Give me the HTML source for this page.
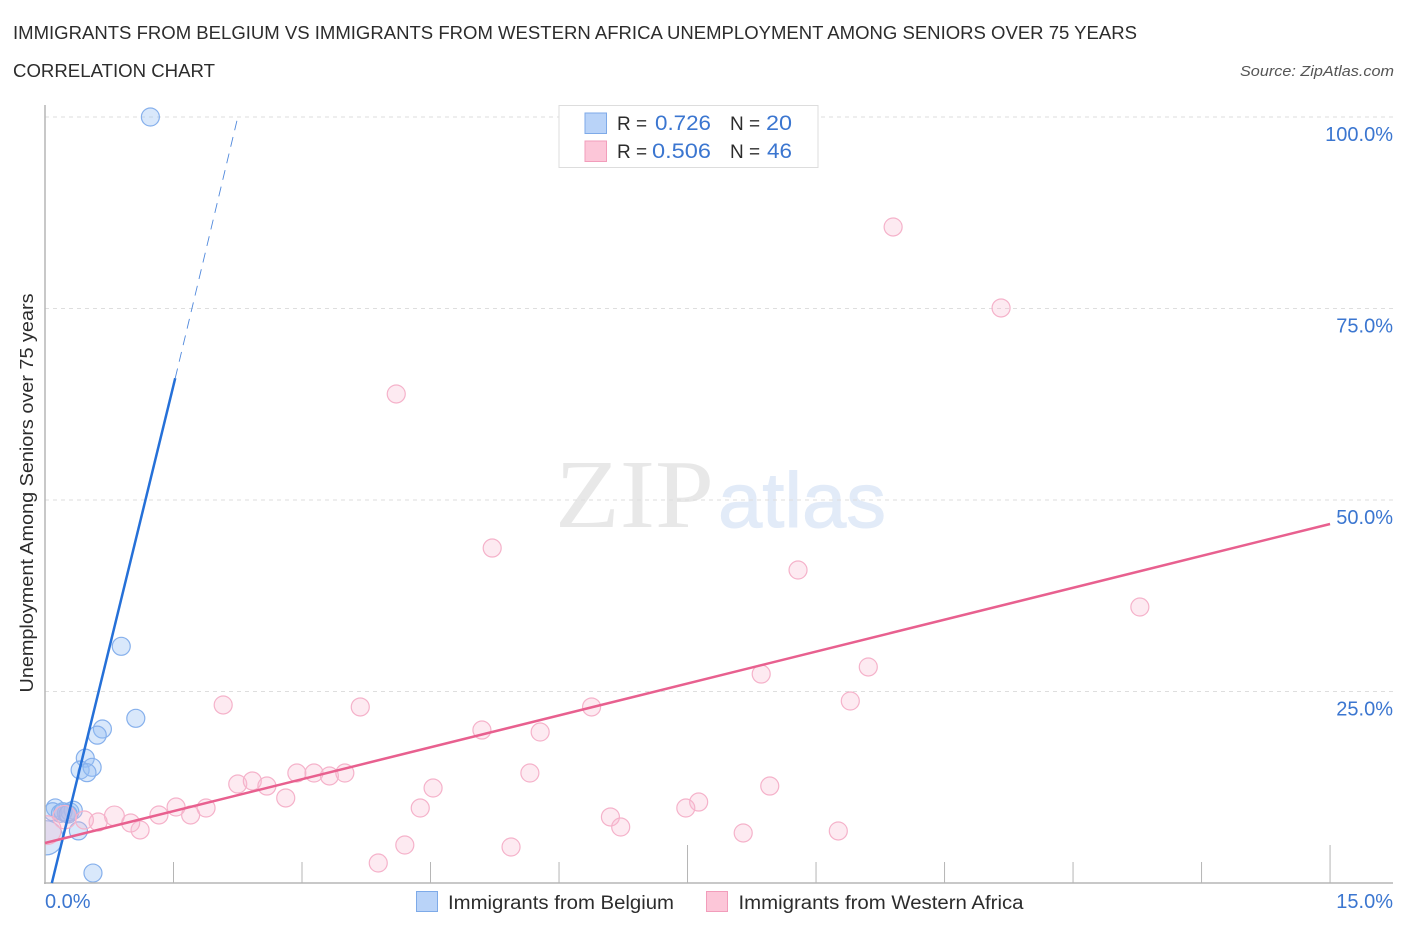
<!DOCTYPE html>
<html lang="en">
<head>
<meta charset="utf-8">
<title>Immigrants from Belgium vs Immigrants from Western Africa Correlation Chart</title>
<style>
html,body{margin:0;padding:0;background:#fff;width:1406px;height:930px;overflow:hidden}
svg{display:block}
text{font-family:"Liberation Sans",sans-serif}
</style>
</head>
<body>
<svg id="chart" xmlns="http://www.w3.org/2000/svg" width="1406" height="930" viewBox="0 0 1406 930">
  <defs>
    <clipPath id="plot-clip"><rect x="45" y="100" width="1350" height="783"/></clipPath>
  </defs>
  <text x="13" y="39" font-size="18" fill="#2c2c2c" textLength="1124" lengthAdjust="spacingAndGlyphs">IMMIGRANTS FROM BELGIUM VS IMMIGRANTS FROM WESTERN AFRICA UNEMPLOYMENT AMONG SENIORS OVER 75 YEARS</text>
  <text x="13" y="77" font-size="18" fill="#2c2c2c" textLength="202" lengthAdjust="spacingAndGlyphs">CORRELATION CHART</text>
  <text x="1394" y="76" font-size="15" font-style="italic" fill="#555" text-anchor="end" textLength="154" lengthAdjust="spacingAndGlyphs">Source: ZipAtlas.com</text>

  <g>
    <text x="555" y="527" font-size="97" fill="#e8e8e8" style="font-family:'Liberation Serif',serif" textLength="159" lengthAdjust="spacingAndGlyphs">ZIP</text>
    <text x="718" y="527" font-size="78" fill="#e2ebf8" stroke="#e2ebf8" stroke-width="1" textLength="168" lengthAdjust="spacingAndGlyphs">atlas</text>
  </g>

  <g id="grid"></g>
  <g id="blue-points" clip-path="url(#plot-clip)"></g>
  <g id="pink-points" clip-path="url(#plot-clip)"></g>
  <g id="axes"></g>
  <g id="trends"></g>
  <g id="labels"></g>

  <text transform="translate(33,493) rotate(-90)" font-size="18" fill="#2c2c2c" text-anchor="middle" textLength="399" lengthAdjust="spacingAndGlyphs">Unemployment Among Seniors over 75 years</text>

  <g>
    <rect x="559" y="105.500" width="259" height="62" fill="#fff" stroke="#ddd" stroke-width="1"/>
    <rect x="585" y="113" width="21.500" height="20.500" fill="#b9d3f8" stroke="#7eaae8" stroke-width="1"/>
    <rect x="585" y="141" width="21.500" height="20.500" fill="#fcc6d8" stroke="#f29dbb" stroke-width="1"/>
    <text x="617" y="130" font-size="19" fill="#2c2c2c">R =</text>
    <text x="711" y="130" font-size="21" fill="#3b76d0" text-anchor="end" textLength="56" lengthAdjust="spacingAndGlyphs">0.726</text>
    <text x="730" y="130" font-size="19" fill="#2c2c2c">N =</text>
    <text x="792" y="130" font-size="21" fill="#3b76d0" text-anchor="end" textLength="26" lengthAdjust="spacingAndGlyphs">20</text>
    <text x="617" y="158" font-size="19" fill="#2c2c2c">R =</text>
    <text x="711" y="158" font-size="21" fill="#3b76d0" text-anchor="end" textLength="59" lengthAdjust="spacingAndGlyphs">0.506</text>
    <text x="730" y="158" font-size="19" fill="#2c2c2c">N =</text>
    <text x="792" y="158" font-size="21" fill="#3b76d0" text-anchor="end" textLength="25" lengthAdjust="spacingAndGlyphs">46</text>
  </g>

  <g>
    <rect x="416.500" y="891.500" width="21" height="20" fill="#b9d3f8" stroke="#7eaae8" stroke-width="1"/>
    <text x="448" y="909" font-size="19" fill="#2c2c2c" textLength="226" lengthAdjust="spacingAndGlyphs">Immigrants from Belgium</text>
    <rect x="706.500" y="891.500" width="21" height="20" fill="#fcc6d8" stroke="#f29dbb" stroke-width="1"/>
    <text x="738.500" y="909" font-size="19" fill="#2c2c2c" textLength="285" lengthAdjust="spacingAndGlyphs">Immigrants from Western Africa</text>
  </g>
</svg>
<script>
var belgiumX = [1.23,0.89,1.06,0.67,0.61,0.47,0.41,0.55,0.49,0.12,0.09,0.18,0.25,0.29,0.33,0.39,0.56,0.01,0.21,0.27];
var belgiumY = [100,30.9,21.5,20.1,19.3,16.3,14.75,15.1,14.4,9.8,9.3,9.1,9.1,9.3,9.5,6.8,1.3,5.9,9.3,9.0];
var belgiumSize = [1,1,1,1,1,1,1,1,1,1,1,1,1,1,1,1,1,1.9,1,1];
var africaX = [9.90,11.16,4.10,5.22,8.79,12.78,9.61,8.36,9.40,6.38,2.08,3.68,5.10,5.78,2.94,3.14,3.32,3.50,5.66,2.25,2.42,2.59,2.81,4.53,8.46,4.38,7.63,7.48,6.60,6.72,8.15,9.26,4.20,5.44,3.89,1.88,1.53,1.70,1.33,1.11,1.00,0.81,0.62,0.46,0.23,0.02];
var africaY = [85.64,75.07,63.84,43.73,40.86,36.03,28.2,27.28,23.76,22.98,23.24,22.98,19.97,19.71,14.36,14.36,13.97,14.36,14.36,12.92,13.32,12.66,11.1,12.4,12.66,9.79,10.57,9.79,8.62,7.31,6.53,6.79,4.96,4.70,2.61,9.79,9.92,8.88,8.88,6.92,7.83,8.75,7.96,8.22,8.6,6.9];
var africaSize = [1,1,1,1,1,1,1,1,1,1,1,1,1,1,1,1,1,1,1,1,1,1,1,1,1,1,1,1,1,1,1,1,1,1,1,1,1,1,1,1,1,1.1,1,1,1.3,1.6];
var xTicks = [1.5,3,4.5,6,7.5,9,10.5,12,13.5,15];
var xMajorTicks = [7.5,15];
var yTicks = [25,50,75,100];
var yTickLabels = ['25.0%','50.0%','75.0%','100.0%'];
var xEndLabels = ['0.0%','15.0%'];
var belgiumTrendX = [0.08,1.52];
var belgiumTrendY = [0,65.9];
var belgiumDashX = [1.52,2.24];
var belgiumDashY = [65.9,99.5];
var africaTrendX = [0,15];
var africaTrendY = [5.22,46.87];

var NS = 'http://www.w3.org/2000/svg';
function sx(v){ return 45 + v * 85.67; }
function sy(v){ return 883 - v * 7.66; }
function mk(tag, parentId, attrs, txt){
  var el = document.createElementNS(NS, tag);
  for (var k in attrs) el.setAttribute(k, attrs[k]);
  if (txt !== undefined) el.textContent = txt;
  document.getElementById(parentId).appendChild(el);
  return el;
}

yTicks.forEach(function(v, i){
  var line = mk('line', 'grid', {x1:45, x2:1393, y1:sy(v), y2:sy(v), stroke:'#dedede', 'stroke-width':1, 'stroke-dasharray':'4 4'});
  
  
  var label = mk('text', 'labels', {x:1393, y:sy(v) + 24, 'font-size':20, fill:'#3b76d0', 'text-anchor':'end'}, yTickLabels[i]);
  
  
});

var yAxis = mk('line', 'axes', {x1:45, x2:45, y1:105, y2:884, stroke:'#b5b5b5', 'stroke-width':1.500});


var xAxis = mk('line', 'axes', {x1:44, x2:1393, y1:883, y2:883, stroke:'#b5b5b5', 'stroke-width':1.500});


xTicks.forEach(function(v){
  var top = xMajorTicks.indexOf(v) >= 0 ? 845 : 862;
  var t = mk('line', 'axes', {x1:sx(v), x2:sx(v), y1:top, y2:883, stroke:'#b5b5b5', 'stroke-width':1});
  
  
});

var x0Label = mk('text', 'labels', {x:45, y:908, 'font-size':20, fill:'#3b76d0'}, xEndLabels[0]);


var x1Label = mk('text', 'labels', {x:1393, y:908, 'font-size':20, fill:'#3b76d0', 'text-anchor':'end'}, xEndLabels[1]);



belgiumX.forEach(function(v, i){
  var p = mk('circle', 'blue-points', {cx:sx(v), cy:sy(belgiumY[i]), r:9 * belgiumSize[i], fill:'rgba(150,190,245,0.36)', stroke:'#86b0ec', 'stroke-width':1.200});
  
  
});
africaX.forEach(function(v, i){
  var p = mk('circle', 'pink-points', {cx:sx(v), cy:sy(africaY[i]), r:9 * africaSize[i], fill:'rgba(250,185,208,0.3)', stroke:'#f5b2ca', 'stroke-width':1.200});
  
  
});

var bt = mk('line', 'trends', {x1:sx(belgiumTrendX[0]), y1:sy(belgiumTrendY[0]), x2:sx(belgiumTrendX[1]), y2:sy(belgiumTrendY[1]), stroke:'#2570d8', 'stroke-width':2.500});


var bd = mk('line', 'trends', {x1:sx(belgiumDashX[0]), y1:sy(belgiumDashY[0]), x2:sx(belgiumDashX[1]), y2:sy(belgiumDashY[1]), stroke:'#4f88dc', 'stroke-width':0.900, 'stroke-dasharray':'10 7'});


var at = mk('line', 'trends', {x1:sx(africaTrendX[0]), y1:sy(africaTrendY[0]), x2:sx(africaTrendX[1]), y2:sy(africaTrendY[1]), stroke:'#e8608f', 'stroke-width':2.500});


</script>
</body>
</html>
